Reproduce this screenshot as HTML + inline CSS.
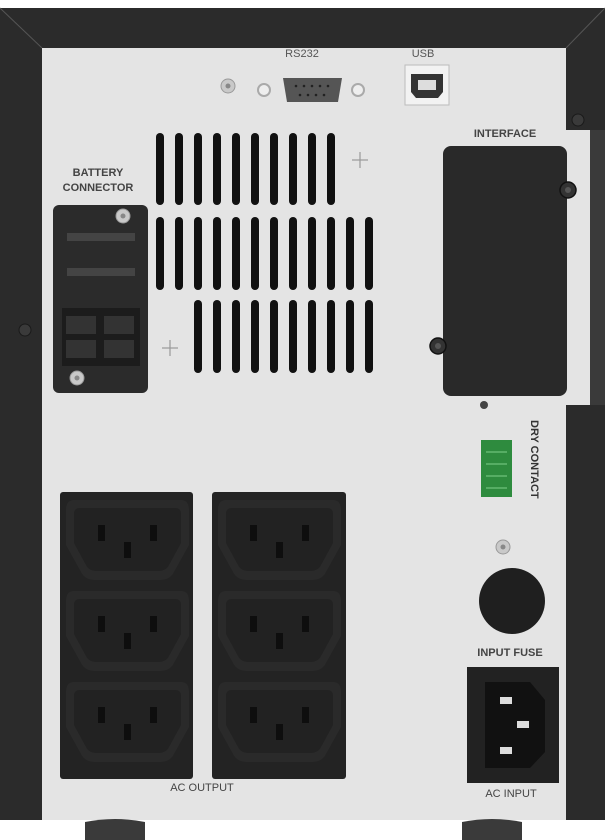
<!DOCTYPE html>
<html><head><meta charset="utf-8"><style>
html,body{margin:0;padding:0;background:#fff;}
svg{display:block;font-family:"Liberation Sans",sans-serif;}
</style></head><body>
<svg width="605" height="840" viewBox="0 0 605 840" xmlns="http://www.w3.org/2000/svg">
<defs>
<g id="outlet">
<path d="M8,0 H115 Q123,0 123,10 V45 L108,72 Q104,80 94,80 H29 Q19,80 15,72 L0,45 V10 Q0,0 8,0Z" fill="#2a2a2a"/>
<path d="M14,8 H109 Q115,8 115,14 V43 L103,65 Q100,71 92,71 H31 Q23,71 20,65 L8,43 V14 Q8,8 14,8Z" fill="#222"/>
<rect x="32" y="25" width="7" height="16" fill="#0e0e0e"/>
<rect x="84" y="25" width="7" height="16" fill="#0e0e0e"/>
<rect x="58" y="42" width="7" height="16" fill="#0e0e0e"/>
</g>
<g id="screw"><circle r="7" fill="#c9c9c9" stroke="#999" stroke-width="1"/><circle r="2.5" fill="#888"/></g>
<g id="dscrew"><circle r="8" fill="#333" stroke="#111" stroke-width="1.5"/><circle r="3" fill="#555"/></g>
</defs>
<rect width="605" height="840" fill="#fff"/>
<!-- frame -->
<rect x="0" y="8" width="605" height="812" fill="#2b2b2b"/>
<rect x="590" y="130" width="15" height="275" fill="#3a3a3a"/>
<!-- panel -->
<path d="M42,48 H566 V130 H590 V405 H566 V820 H42Z" fill="#e4e4e4"/>
<rect x="566" y="130" width="24" height="275" fill="#e4e4e4"/>
<line x1="0" y1="8" x2="42" y2="48" stroke="#555" stroke-width="1"/>
<line x1="605" y1="8" x2="566" y2="48" stroke="#555" stroke-width="1"/>
<circle cx="25" cy="330" r="6" fill="#3a3a3a" stroke="#1a1a1a"/>
<circle cx="578" cy="120" r="6" fill="#3a3a3a" stroke="#1a1a1a"/>
<!-- feet -->
<path d="M85,822 Q115,816 145,822 V840 H85Z" fill="#3a3a3a"/>
<path d="M462,822 Q492,816 522,822 V840 H462Z" fill="#3a3a3a"/>
<!-- top connectors -->
<text x="302" y="57" font-size="11" fill="#555" text-anchor="middle">RS232</text>
<text x="423" y="57" font-size="11" fill="#555" text-anchor="middle">USB</text>
<use href="#screw" x="228" y="86"/>
<circle cx="264" cy="90" r="6" fill="#eee" stroke="#aaa" stroke-width="2"/>
<circle cx="358" cy="90" r="6" fill="#eee" stroke="#aaa" stroke-width="2"/>
<path d="M283,78 H342 L338,102 H287Z" fill="#555"/>
<g fill="#222"><circle cx="296" cy="86" r="1.3"/><circle cx="304" cy="86" r="1.3"/><circle cx="312" cy="86" r="1.3"/><circle cx="320" cy="86" r="1.3"/><circle cx="328" cy="86" r="1.3"/><circle cx="300" cy="95" r="1.3"/><circle cx="308" cy="95" r="1.3"/><circle cx="316" cy="95" r="1.3"/><circle cx="324" cy="95" r="1.3"/></g>
<rect x="405" y="65" width="44" height="40" fill="#f2f2f2" stroke="#bbb"/>
<path d="M411,74 H443 V92 L438,98 H416 L411,92Z" fill="#333"/>
<rect x="418" y="80" width="18" height="10" fill="#ddd"/>
<!-- interface -->
<text x="505" y="137" font-size="11" fill="#444" text-anchor="middle" font-weight="bold">INTERFACE</text>
<rect x="443" y="146" width="124" height="250" rx="8" fill="#292929"/>
<use href="#dscrew" x="568" y="190"/>
<use href="#dscrew" x="438" y="346"/>
<circle cx="484" cy="405" r="4" fill="#444"/>
<!-- battery -->
<text x="98" y="176" font-size="11" fill="#444" text-anchor="middle" font-weight="bold">BATTERY</text>
<text x="98" y="191" font-size="11" fill="#444" text-anchor="middle" font-weight="bold">CONNECTOR</text>
<rect x="53" y="205" width="95" height="188" rx="6" fill="#2b2b2b"/>
<use href="#screw" x="123" y="216"/>
<use href="#screw" x="77" y="378"/>
<rect x="67" y="233" width="68" height="8" fill="#444"/>
<rect x="67" y="268" width="68" height="8" fill="#444"/>
<rect x="62" y="308" width="78" height="58" fill="#1c1c1c"/>
<rect x="66" y="316" width="30" height="18" fill="#333"/><rect x="104" y="316" width="30" height="18" fill="#333"/>
<rect x="66" y="340" width="30" height="18" fill="#333"/><rect x="104" y="340" width="30" height="18" fill="#333"/>
<!-- vents -->
<g fill="#111">
<rect x="156" y="133" width="8" height="72" rx="4"/><rect x="175" y="133" width="8" height="72" rx="4"/><rect x="194" y="133" width="8" height="72" rx="4"/><rect x="213" y="133" width="8" height="72" rx="4"/><rect x="232" y="133" width="8" height="72" rx="4"/><rect x="251" y="133" width="8" height="72" rx="4"/><rect x="270" y="133" width="8" height="72" rx="4"/><rect x="289" y="133" width="8" height="72" rx="4"/><rect x="308" y="133" width="8" height="72" rx="4"/><rect x="327" y="133" width="8" height="72" rx="4"/>
<rect x="156" y="217" width="8" height="73" rx="4"/><rect x="175" y="217" width="8" height="73" rx="4"/><rect x="194" y="217" width="8" height="73" rx="4"/><rect x="213" y="217" width="8" height="73" rx="4"/><rect x="232" y="217" width="8" height="73" rx="4"/><rect x="251" y="217" width="8" height="73" rx="4"/><rect x="270" y="217" width="8" height="73" rx="4"/><rect x="289" y="217" width="8" height="73" rx="4"/><rect x="308" y="217" width="8" height="73" rx="4"/><rect x="327" y="217" width="8" height="73" rx="4"/><rect x="346" y="217" width="8" height="73" rx="4"/><rect x="365" y="217" width="8" height="73" rx="4"/>
<rect x="194" y="300" width="8" height="73" rx="4"/><rect x="213" y="300" width="8" height="73" rx="4"/><rect x="232" y="300" width="8" height="73" rx="4"/><rect x="251" y="300" width="8" height="73" rx="4"/><rect x="270" y="300" width="8" height="73" rx="4"/><rect x="289" y="300" width="8" height="73" rx="4"/><rect x="308" y="300" width="8" height="73" rx="4"/><rect x="327" y="300" width="8" height="73" rx="4"/><rect x="346" y="300" width="8" height="73" rx="4"/><rect x="365" y="300" width="8" height="73" rx="4"/>
</g>
<g stroke="#999" stroke-width="1.2"><line x1="352" y1="160" x2="368" y2="160"/><line x1="360" y1="152" x2="360" y2="168"/><line x1="162" y1="348" x2="178" y2="348"/><line x1="170" y1="340" x2="170" y2="356"/></g>
<!-- dry contact -->
<rect x="481" y="440" width="31" height="57" fill="#2e8b3e"/>
<g stroke="#7fcf8a" stroke-width="1"><line x1="486" y1="452" x2="507" y2="452"/><line x1="486" y1="464" x2="507" y2="464"/><line x1="486" y1="476" x2="507" y2="476"/><line x1="486" y1="488" x2="507" y2="488"/></g>
<text transform="translate(531,420) rotate(90)" font-size="11" fill="#333" font-weight="bold">DRY CONTACT</text>
<use href="#screw" x="503" y="547"/>
<circle cx="512" cy="601" r="33" fill="#1f1f1f"/>
<text x="510" y="656" font-size="11" fill="#444" text-anchor="middle" font-weight="bold">INPUT FUSE</text>
<rect x="467" y="667" width="92" height="116" fill="#222"/>
<path d="M485,682 H530 L545,700 V752 L530,768 H485Z" fill="#111"/>
<rect x="500" y="697" width="12" height="7" fill="#ddd"/>
<rect x="517" y="721" width="12" height="7" fill="#ddd"/>
<rect x="500" y="747" width="12" height="7" fill="#ddd"/>
<text x="511" y="797" font-size="11" fill="#444" text-anchor="middle">AC INPUT</text>
<!-- outlets -->
<rect x="60" y="492" width="133" height="287" rx="3" fill="#232323"/>
<rect x="212" y="492" width="134" height="287" rx="3" fill="#232323"/>
<use href="#outlet" x="66" y="500"/><use href="#outlet" x="66" y="591"/><use href="#outlet" x="66" y="682"/>
<use href="#outlet" x="218" y="500"/><use href="#outlet" x="218" y="591"/><use href="#outlet" x="218" y="682"/>
<text x="202" y="791" font-size="11" fill="#444" text-anchor="middle">AC OUTPUT</text>
</svg>
</body></html>
